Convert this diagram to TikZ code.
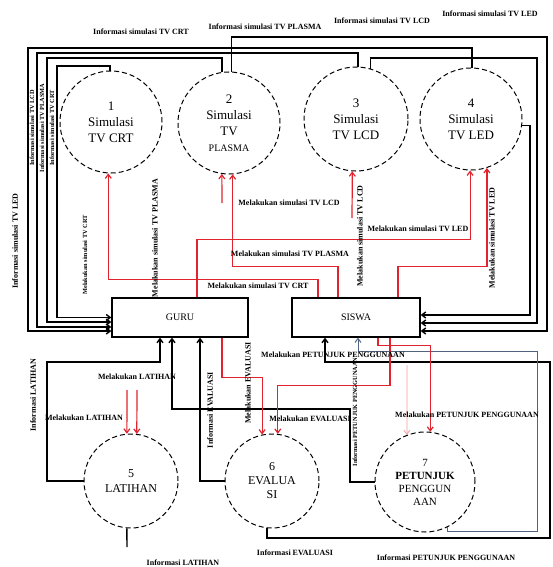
\documentclass[tikz,border=0pt]{standalone}
\usepackage{fontspec}
\setmainfont{Liberation Serif}
\usetikzlibrary{arrows.meta,calc}
\definecolor{merah}{RGB}{225,35,45}
\definecolor{biru}{RGB}{80,100,130}
\tikzset{>={Straight Barb[length=4pt,width=6pt]},every node/.style={inner sep=1pt},
proses/.style={draw,circle,line width=1pt,dash pattern=on 5pt off 3pt,align=center,inner sep=0pt,font=\fontsize{13}{16}\selectfont},
entitas/.style={draw,line width=1.3pt,minimum height=39pt,font=\fontsize{10}{12}\selectfont},
info/.style={line width=1.4pt,->},flow/.style={line width=1.2pt,merah,->},
lbl/.style={font=\bfseries\fontsize{8}{9}\selectfont},vlbl/.style={lbl,rotate=90},
kecil/.style={font=\bfseries\fontsize{6.3}{7}\selectfont}}
\begin{document}
\begin{tikzpicture}[x=1pt,y=-1pt]
\useasboundingbox (0,0) rectangle (552,567);
\node[proses,minimum size=102pt] (c1) at (111,122) {1\\Simulasi\\TV CRT};
\node[proses,minimum size=102pt] (c2) at (229,123) {2\\Simulasi\\TV\\{\fontsize{10}{12}\selectfont PLASMA}};
\node[proses,minimum size=104pt] (c3) at (356,119) {3\\Simulasi\\TV LCD};
\node[proses,minimum size=102pt] (c4) at (471,119) {4\\Simulasi\\TV LED};
\node[proses,minimum size=94pt,font=\fontsize{12}{15}\selectfont] (c5) at (131,481) {5\\LATIHAN};
\node[proses,minimum size=94pt,font=\fontsize{12}{14}\selectfont] (c6) at (272,481) {6\\EVALUA\\SI};
\node[proses,minimum size=100pt,font=\fontsize{11}{13}\selectfont] (c7) at (425,482) {7\\\textbf{PETUNJUK}\\PENGGUN\\AAN};
\node[entitas,minimum width=136pt] (guru) at (180,317.5) {GURU};
\node[entitas,minimum width=128pt] (siswa) at (356,317.5) {SISWA};
% informasi ke guru dan siswa
\foreach \n/\a/\x/\y/\s in {c1/91/57/66/0,c2/98/47/58/-4.5,c3/88/37/53/-9.5,c4/89/28/48/-13.5}
  \draw[info] (\n.\a) |- (\x,\y) |- ([yshift=\s pt]guru.west);
\draw[info] (c2.87) |- (547,37) |- ([yshift=-13.5pt]siswa.east);
\draw[info] (c3.74) |- (537,58) |- ([yshift=-5.5pt]siswa.east);
\draw[info] (c4.-7) -| (530,200) |- ([yshift=2.5pt]siswa.east);
\draw[info] (c5.west) -| (47,362) -| ([xshift=-20pt]guru.south);
\draw[info] (c7.west) -| (350,409) -| ([xshift=-8pt]guru.south);
\draw[info] (c6.west) -| ([xshift=20pt]guru.south);
\draw[info] (c6.264) |- (550,538) |- (325,362) -- ([xshift=-31pt]siswa.south);
\draw[info,biru,line width=1pt] (c7.297) |- (537,531) |- (358,351) -- ([xshift=2pt]siswa.south);
\coordinate (e5) at (127,547);\draw[line width=1.4pt] (c5.265) -- (e5);
% simulasi dari guru dan siswa
\draw[flow] ([xshift=17pt]guru.north) -- ++(0,-58) -| (c4.269);
\draw[flow] ([xshift=-38pt]siswa.north) -- ++(0,-18) -| (c1.267);
\draw[flow] ([xshift=-18pt]siswa.north) -- ++(0,-31) -| (c2.274);
\draw[flow] ([xshift=42pt]siswa.north) -- ++(0,-31) -| (c4.288);
\draw[flow] ([xshift=42pt]guru.south) -- ++(0,40) -| (c6.102);
\draw[flow] ([xshift=34pt]siswa.south) -- ++(0,48) -| (c6.83);
\draw[flow] ([xshift=22pt]siswa.south) -- ++(0,8) -| (c7.84);
\coordinate (p2) at (222,203);\coordinate (p3) at (352,218);\coordinate (p5a) at (127,390);
\coordinate (p5b) at (137,390);\coordinate (p7) at (407,365);
\draw[flow] (p2) -- (c2.262);\draw[flow] (p3) -- (c3.266);
\draw[flow] (p5a) -- (c5.95);\draw[flow] (p5b) -- (c5.83);
\draw[flow,merah!45,line width=.8pt] (p7) -- (c7.111);
% label aliran
\foreach \n/\x/\y/\t in {t1/141/32/Informasi simulasi TV CRT,t2/265/27/Informasi simulasi TV PLASMA,
  t3/382/21/Informasi simulasi TV LCD,t4/490/14/Informasi simulasi TV LED,
  t5/183/563/Informasi LATIHAN,t6/295/553/Informasi EVALUASI,t7/446/558/Informasi PETUNJUK PENGGUNAAN,
  m1/289/203/Melakukan simulasi TV LCD,m2/418/229/Melakukan simulasi TV LED,
  m3/290/254/Melakukan simulasi TV PLASMA,m4/258/286/Melakukan simulasi TV CRT,
  m5/137/377/Melakukan LATIHAN,m6/84/418/Melakukan LATIHAN,m7/310/419/Melakukan EVALUASI,
  m8/333/355/Melakukan PETUNJUK PENGGUNAAN,m9/467/415/Melakukan PETUNJUK PENGGUNAAN}
  \node[lbl] (\n) at (\x,\y) {\t};
\foreach \n/\x/\y/\t in {v1/15/241/Informasi simulasi TV LED,v5/33/395/Informasi LATIHAN,
  v7/155/238/Melakukan simulasi TV PLASMA,v8/360/236/Melakukan simulasi TV LCD,
  v9/492/238/Melakukan simulasi TV LED,v10/210/410/Informasi EVALUASI,v11/248/383/Melakukan EVALUASI}
  \node[vlbl] (\n) at (\x,\y) {\t};
\foreach \n/\x/\y/\t in {v2/32/128/Informasi simulasi TV LCD,v3/42/128/Informasi simulasi TV PLASMA,
  v4/52/128/Informasi simulasi TV CRT,v6/85/255/Melakukan simulasi TV CRT,v12/355/412/Informasi PETUNJUK PENGGUNAAN}
  \node[kecil,rotate=90] (\n) at (\x,\y) {\t};
\end{tikzpicture}
\end{document}
